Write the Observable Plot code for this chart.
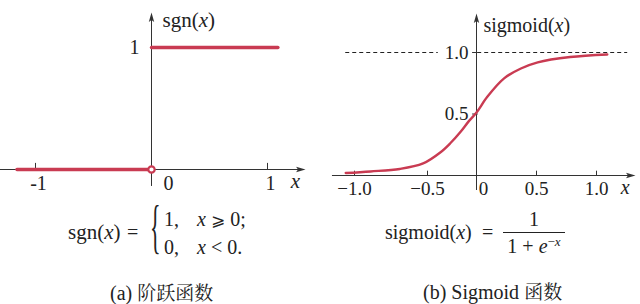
<!DOCTYPE html>
<html><head><meta charset="utf-8">
<script src="https://cdn.jsdelivr.net/npm/d3@7"></script>
<script src="https://cdn.jsdelivr.net/npm/@observablehq/plot@0.6"></script>
<style>
html,body{margin:0;padding:0;background:#fff;}
#page{position:relative;width:640px;height:304px;overflow:hidden;font-family:"Liberation Serif","Noto Serif CJK SC","DejaVu Serif",serif;color:#222;}
.abs{position:absolute;white-space:nowrap;font-size:20px;line-height:20px;}
#left{position:absolute;left:0;top:0;}
#right{position:absolute;left:320px;top:0;}
i{font-style:italic;}
.sym{font-family:"DejaVu Serif","DejaVu Sans",serif;font-size:17px;}
.cap{font-family:"Liberation Serif","Noto Serif CJK SC",serif;}
.cjk{font-family:"Noto Serif CJK SC",serif;font-size:19px;}
</style></head><body>
<div id="page">
  <div id="left"></div>
  <div id="right"></div>

  <span class="abs" style="left:68px;top:222px;font-size:21px">sgn(<i>x</i>)</span>
  <span class="abs" style="left:127px;top:222px">=</span>
  <span class="abs" style="left:150px;top:216px;font-size:22px;line-height:22px;transform:scaleY(2.73);transform-origin:50% 50%">{</span>
  <span class="abs" style="left:164px;top:209px">1,</span>
  <span class="abs" style="left:197px;top:209px"><i>x</i> <span class="sym">⩾</span> 0;</span>
  <span class="abs" style="left:164px;top:237px">0,</span>
  <span class="abs" style="left:197px;top:237px"><i>x</i> &lt; 0.</span>

  <span class="abs" style="left:385px;top:222px">sigmoid(<i>x</i>)</span>
  <span class="abs" style="left:482px;top:222px">=</span>
  <div class="abs" style="left:503px;top:209px;width:62px;text-align:center">1</div>
  <div style="position:absolute;left:503px;top:232px;width:62px;height:1px;background:#222"></div>
  <div class="abs" style="left:503px;top:236px;width:62px;text-align:center">1 + <i>e</i><span style="position:relative;top:-7px;font-size:13px">−<i>x</i></span></div>

  <span class="abs cap" style="left:110px;top:282px">(a) <span class="cjk">阶跃函数</span></span>
  <span class="abs cap" style="left:423px;top:281px">(b) Sigmoid <span class="cjk">函数</span></span>
</div>
<script>
// ---- data: step function (left) ----
const stepX = [-1.16, 0, 0, 1.09];
const stepY = [0, 0, 1, 1];
const stepPiece = ["neg", "neg", "pos", "pos"];
const openPointX = [0];
const openPointY = [0];
const sgnTicks = [-1, 1];
const sgnTickLabels = ["-1", "1"];
const sgnYLabel = ["1"];

// ---- data: sigmoid (right) ----
const sigX = [-1.06, -0.89, -0.69, -0.53, -0.37, -0.27, -0.16, -0.08, 0, 0.09, 0.23, 0.37, 0.51, 0.78, 1.09];
const sigY = [0.02, 0.033, 0.053, 0.098, 0.187, 0.26, 0.358, 0.44, 0.512, 0.64, 0.79, 0.87, 0.92, 0.963, 0.984];
const sigTicks = [-1, -0.5, 0.5, 1];
const sigTickLabels = ["−1.0", "−0.5", "0.5", "1.0"];
const sigYTicks = [0.5, 1];
const sigYTickLabels = ["0.5", "1.0"];
const asymptoteStart = [-1.06, 0.01];
const asymptoteEnd = [-0.39, 1.26];

const RED = "#c93b52";
const AX = "#333";
const FONT = "Liberation Serif";

const arrowUp = {draw(c) { c.moveTo(0, 0); c.lineTo(2.7, 9.5); c.lineTo(0, 7.5); c.lineTo(-2.7, 9.5); c.closePath(); }};
const arrowRight = {draw(c) { c.moveTo(0, 0); c.lineTo(-9.5, 2.7); c.lineTo(-7.5, 0); c.lineTo(-9.5, -2.7); c.closePath(); }};

function italicX(svg) {
  svg.querySelectorAll("text").forEach(t => {
    if (t.textContent.includes("(x)")) {
      const s = t.textContent.split("(x)");
      t.innerHTML = s[0] + '(<tspan font-style="italic">x</tspan>)' + s[1];
    }
  });
  return svg;
}

// ---- left plot ----
const stepData = stepX.map((x, i) => ({x, y: stepY[i], piece: stepPiece[i]}));
const left = Plot.plot({
  width: 320, height: 200,
  margin: 0,
  style: {background: "transparent", fontFamily: FONT, color: "#222"},
  x: {domain: [-1, 1], range: [35, 267], axis: null},
  y: {domain: [0, 1], range: [169, 47], axis: null},
  marks: [
    Plot.ruleY([0], {x1: -1.31, x2: 1.284, stroke: AX, strokeWidth: 1}),
    Plot.ruleX([0], {y1: -0.139, y2: 1.246, stroke: AX, strokeWidth: 1}),
    Plot.dot([0], {x: () => 1.328, y: () => 0, symbol: arrowRight, fill: AX, stroke: "none"}),
    Plot.dot([0], {x: () => 0, y: () => 1.287, symbol: arrowUp, fill: AX, stroke: "none"}),
    Plot.ruleX(sgnTicks, {y1: 0, y2: 0.05, stroke: AX, strokeWidth: 1}),
    Plot.line(stepData, {x: "x", y: "y", z: "piece", stroke: RED, strokeWidth: 3.4}),
    Plot.dot(openPointX.map((x, i) => ({x, y: openPointY[i]})), {x: "x", y: "y", r: 3.2, stroke: RED, strokeWidth: 2.2, fill: "white"}),
    Plot.text(sgnTicks, {x: d => d, y: () => 0, text: (d, i) => sgnTickLabels[i], dy: 14, dx: 3, fontSize: 20, fontFamily: FONT}),
    Plot.text(["0"], {x: () => 0, y: () => 0, text: d => d, dx: 17, dy: 14, fontSize: 20, fontFamily: FONT}),
    Plot.text(["x"], {x: () => 1.24, y: () => 0, text: d => d, dy: 12, fontSize: 21, fontStyle: "italic", fontFamily: FONT}),
    Plot.text(sgnYLabel, {x: () => 0, y: () => 1, text: d => d, dx: -17, fontSize: 20, fontFamily: FONT}),
    Plot.text(["sgn(x)"], {x: () => 0.095, y: () => 1.221, text: d => d, textAnchor: "start", fontSize: 21, fontFamily: FONT})
  ]
});
document.getElementById("left").appendChild(italicX(left));

// ---- right plot: the figure's x axis is drawn unevenly, so a piecewise-linear mapping of its ticks ----
const sigTickAnchors = [-1, -0.5, 0, 0.5, 1];
const sigTickPixels = [34, 107, 156, 216, 276];
const piece = d3.scaleLinear().domain(sigTickAnchors).range(sigTickPixels);
const sigData = sigX.map((x, i) => ({x, y: sigY[i]}));
const right = Plot.plot({
  width: 320, height: 200,
  margin: 0,
  style: {background: "transparent", fontFamily: FONT, color: "#222"},
  x: {transform: piece, domain: [0, 320], range: [0, 320], axis: null},
  y: {domain: [0, 1], range: [175, 52], axis: null},
  marks: [
    Plot.ruleY(asymptoteStart, {x1: d => d, x2: (d, i) => asymptoteEnd[i], y: () => 1, stroke: "#222", strokeWidth: 1, strokeDasharray: "4,3"}),
    Plot.ruleY([0], {x1: -1.151, x2: 1.283, stroke: AX, strokeWidth: 1}),
    Plot.ruleX([0], {y1: -0.122, y2: 1.276, stroke: AX, strokeWidth: 1}),
    Plot.dot([0], {x: () => 1.325, y: () => 0, symbol: arrowRight, fill: AX, stroke: "none"}),
    Plot.dot([0], {x: () => 0, y: () => 1.317, symbol: arrowUp, fill: AX, stroke: "none"}),
    Plot.ruleX(sigTicks, {y1: 0, y2: 0.035, stroke: AX, strokeWidth: 1}),
    Plot.ruleY(sigYTicks, {x1: -0.04, x2: 0.015, stroke: AX, strokeWidth: 1}),
    Plot.line(sigData, {x: "x", y: "y", curve: "catmull-rom", stroke: RED, strokeWidth: 2.4}),
    Plot.text(sigTicks, {x: d => d, y: () => 0, text: (d, i) => sigTickLabels[i], dy: 13, fontSize: 19, fontFamily: FONT}),
    Plot.text(["0"], {x: () => 0, y: () => 0, text: d => d, dx: 7, dy: 13, fontSize: 19, fontFamily: FONT}),
    Plot.text(["x"], {x: () => 1.24, y: () => 0, text: d => d, dy: 12, fontSize: 20, fontStyle: "italic", fontFamily: FONT}),
    Plot.text(sigYTicks, {x: () => 0, y: d => d, text: (d, i) => sigYTickLabels[i], dx: -8, textAnchor: "end", fontSize: 19, fontFamily: FONT}),
    Plot.text(["sigmoid(x)"], {x: () => 0.058, y: () => 1.22, text: d => d, textAnchor: "start", fontSize: 20, fontFamily: FONT})
  ]
});
document.getElementById("right").appendChild(italicX(right));
</script>
</body></html>
